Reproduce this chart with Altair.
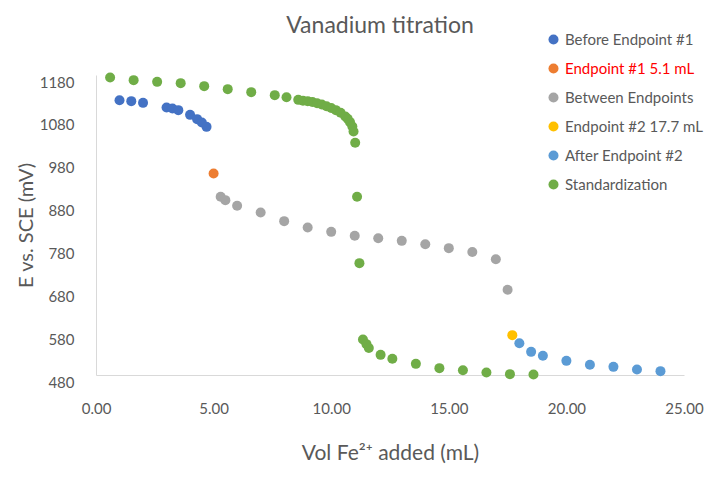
import altair as alt
import pandas as pd

series_names = ["Before Endpoint #1", "Endpoint #1 5.1 mL", "Between Endpoints",
                "Endpoint #2 17.7 mL", "After Endpoint #2", "Standardization"]
series_colors = ["#4472C4", "#ED7D31", "#A5A5A5", "#FFC000", "#5B9BD5", "#70AD47"]

before_x = [1.0, 1.5, 2.0, 3.0, 3.25, 3.5, 4.0, 4.3, 4.5, 4.7]
before_y = [1121, 1119, 1115, 1104, 1102, 1098, 1087, 1077, 1069, 1059]
ep1_x = [5.0]
ep1_y = [950]
between_x = [5.3, 5.5, 6.0, 7.0, 8.0, 9.0, 10.0, 11.0, 12.0, 13.0, 14.0, 15.0, 16.0, 17.0, 17.5]
between_y = [896, 888, 875, 859, 839, 824, 814, 805, 799, 793, 785, 776, 767, 750, 679]
ep2_x = [17.7]
ep2_y = [573]
after_x = [18.0, 18.5, 19.0, 20.0, 21.0, 22.0, 23.0, 24.0]
after_y = [554, 534, 525, 513, 504, 499, 493, 489]
std_x = [0.6, 1.6, 2.6, 3.6, 4.6, 5.6, 6.6, 7.6, 8.1,
         8.6, 8.8, 9.0, 9.2, 9.4, 9.6, 9.8, 10.0, 10.2, 10.4, 10.6, 10.7, 10.8, 10.9, 10.95,
         11.02, 11.1, 11.2, 11.35, 11.5, 11.6,
         12.1, 12.6, 13.6, 14.6, 15.6, 16.6, 17.6, 18.6]
std_y = [1174, 1168, 1164, 1161, 1154, 1147, 1140, 1133, 1128,
         1122, 1120, 1119, 1117, 1114, 1111, 1107, 1103, 1098, 1092, 1083, 1078, 1070, 1060, 1048,
         1022, 896, 741, 563, 552, 543,
         527, 518, 506, 496, 491, 486, 482, 481]

x_ticks = [0, 5, 10, 15, 20, 25]
y_ticks = [480, 580, 680, 780, 880, 980, 1080, 1180]

rows = []
for name, xs, ys in zip(series_names,
                        [before_x, ep1_x, between_x, ep2_x, after_x, std_x],
                        [before_y, ep1_y, between_y, ep2_y, after_y, std_y]):
    for xv, yv in zip(xs, ys):
        rows.append({"series": name, "vol": xv, "E": yv})
df = pd.DataFrame(rows)

FONT = "Lato"
GREY = "#595959"

chart = alt.Chart(df).mark_circle(opacity=1).encode(
    x=alt.X("vol:Q",
            scale=alt.Scale(domain=[0, 25], nice=False, zero=False),
            axis=alt.Axis(values=x_ticks, format=".2f", title="Vol Fe²⁺ added (mL)",
                          grid=False, ticks=False, domainColor="#D9D9D9", labelFlush=False,
                          labelPadding=26, labelFontSize=15, labelColor=GREY, labelFont=FONT,
                          titleFontSize=21, titleColor=GREY, titleFont=FONT,
                          titleFontWeight="normal", titlePadding=26)),
    y=alt.Y("E:Q",
            scale=alt.Scale(domain=[480, 1180], nice=False, zero=False),
            axis=alt.Axis(values=y_ticks, format="d", title="E vs. SCE (mV)",
                          grid=False, ticks=False, domainColor="#D9D9D9", labelFlush=False,
                          labelPadding=22, labelOffset=7, labelFontSize=15, labelColor=GREY,
                          labelFont=FONT, titleFontSize=20, titleColor=GREY, titleFont=FONT,
                          titleFontWeight="normal", titlePadding=3)),
    color=alt.Color("series:N",
                    scale=alt.Scale(domain=series_names, range=series_colors),
                    sort=series_names,
                    legend=alt.Legend(title=None, orient="none", legendX=450, legendY=-43,
                                      symbolType="circle", symbolSize=85, symbolOpacity=1,
                                      labelFont=FONT, labelFontSize=15,
                                      labelColor=alt.ExprRef("datum.label == 'Endpoint #1 5.1 mL' ? '#FF0000' : '#595959'"),
                                      rowPadding=13, labelOffset=4, labelLimit=300)),
    size=alt.Size("series:N",
                  scale=alt.Scale(domain=series_names, range=[100, 100, 100, 100, 100, 64]),
                  legend=None),
    order=alt.Order("order:Q"),
).transform_calculate(
    order="datum.series == 'Standardization' ? 1 : 0"
).properties(
    width=588, height=300,
    autosize=alt.AutoSizeParams(type="none"),
    padding={"left": 88, "top": 67, "right": 28, "bottom": 96},
    title=alt.TitleParams("Vanadium titration", fontSize=23, font=FONT, fontWeight="normal",
                          color=GREY, anchor="middle", dx=-10, offset=-6, frame="group"),
).configure_view(stroke=None)

chart.save("out.html", embed_options={"renderer": "svg", "actions": False})
